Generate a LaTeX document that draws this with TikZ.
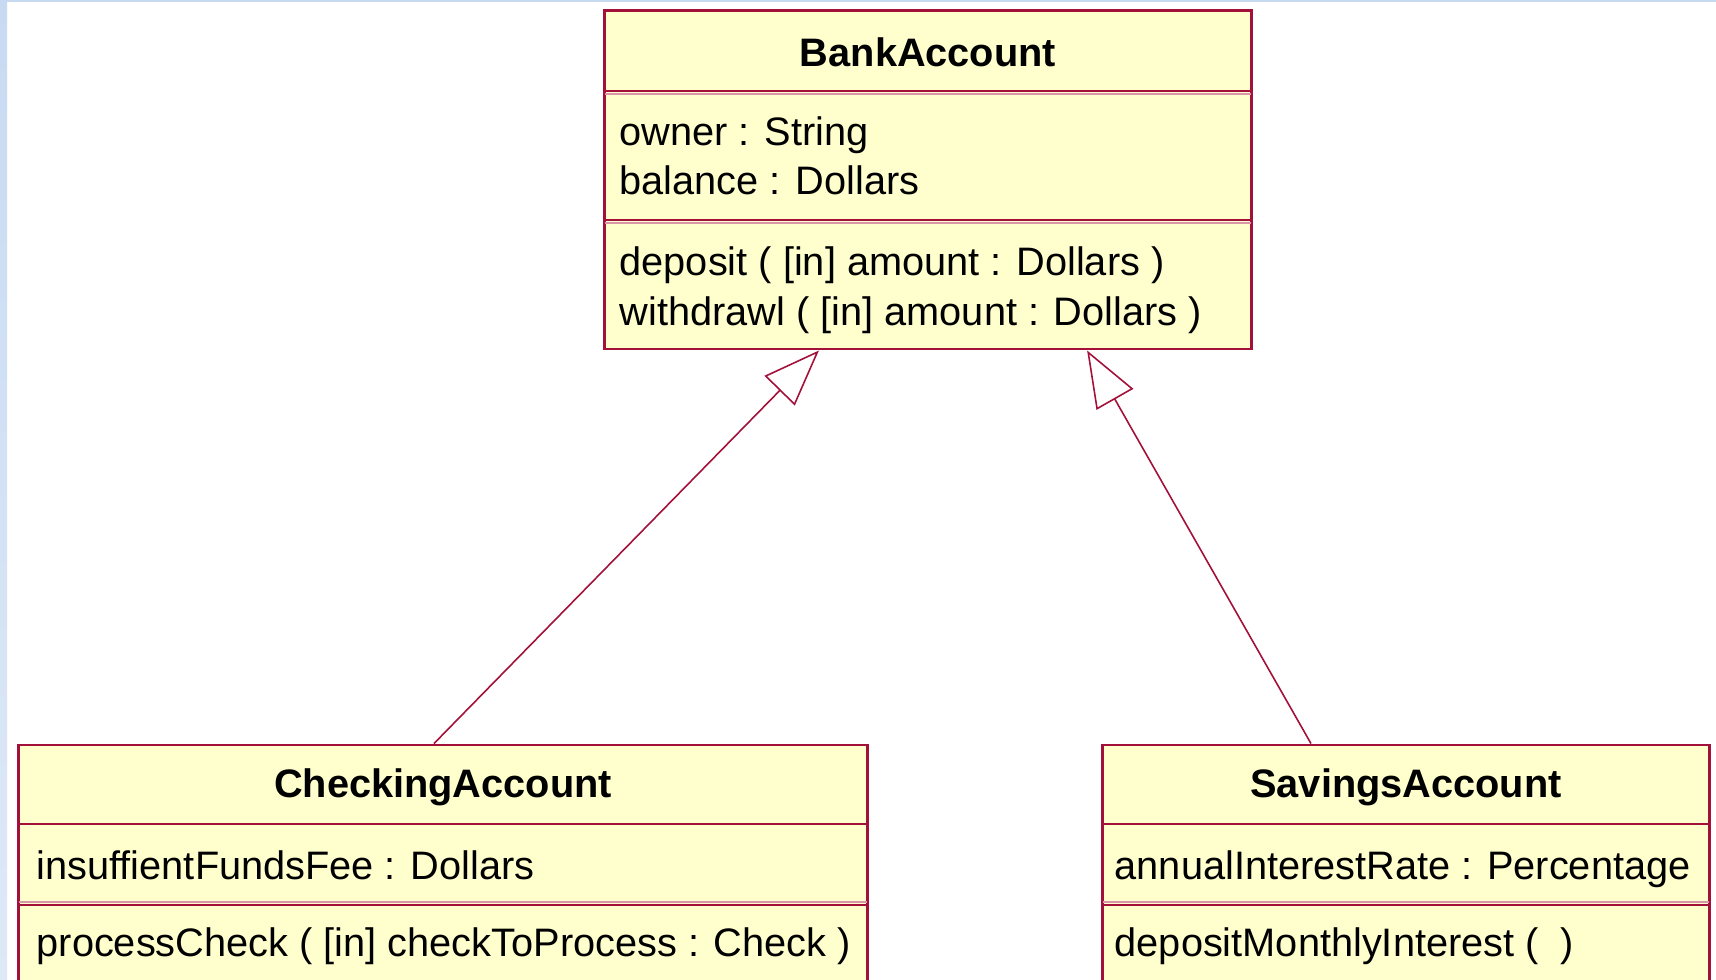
\documentclass[tikz,border=0pt]{standalone}
\usepackage{fontspec}
\setmainfont{Liberation Sans}
\usetikzlibrary{arrows.meta}
\definecolor{umlred}{RGB}{163,16,58}
\definecolor{umlpink}{RGB}{216,150,168}
\definecolor{umlfill}{RGB}{255,255,206}
\definecolor{winblue}{RGB}{200,218,242}

\begin{document}
\begin{tikzpicture}[x=0.01cm, y=-0.01cm,
	font=\fontsize{11.3}{14}\selectfont,
	classbox/.style={shape=rectangle, draw=umlred, fill=umlfill, line width=0.8pt, inner sep=0pt},
	classname/.style={font=\fontsize{11.3}{14}\selectfont\bfseries, inner sep=0pt},
	member/.style={anchor=west, inner sep=0pt, text height=0.75em, text depth=0.25em},
	sep/.style={draw=umlred, line width=0.55pt},
	sepshade/.style={draw=umlpink, line width=0.45pt},
	inherit/.style={draw=umlred, line width=0.45pt, -{Triangle[length=16pt, width=12pt, fill=white]}}]
	\clip (0,0) rectangle (1716,980);
	\fill[white] (0,0) rectangle (1716,980);
	\shade[top color=winblue, bottom color=winblue!60] (0,0) rectangle (7,980);
	\fill[winblue] (0,0) rectangle (1716,2);
	% classes
	\node[classbox, minimum width=6.46cm, minimum height=3.38cm] (bank)  at (928,180)  {};
	\node[classbox, minimum width=8.48cm, minimum height=2.60cm] (check) at (443,875)  {};
	\node[classbox, minimum width=6.06cm, minimum height=2.60cm] (save)  at (1406,875) {};
	% compartments
	\draw[sep] (605,91) -- (1251,91);
	\draw[sepshade] (605,94) -- (1251,94);
	\draw[sep] (605,220) -- (1251,220);
	\draw[sepshade] (605,223) -- (1251,223);
	\draw[sep] (19,824) -- (867,824);
	\draw[sep] (19,905) -- (867,905);
	\draw[sepshade] (19,902) -- (867,902);
	\draw[sep] (1103,824) -- (1709,824);
	\draw[sep] (1103,905) -- (1709,905);
	\draw[sepshade] (1103,902) -- (1709,902);
	% texts
	\node[classname] (bankname) at (928,52) {BankAccount};
	\node[member] (owner)    at (619,137) {owner : String};
	\node[member] (balance)  at (619,186) {balance : Dollars};
	\node[member] (deposit)  at (619,267) {deposit ( [in] amount : Dollars )};
	\node[member] (withdraw) at (619,317) {withdrawl ( [in] amount : Dollars )};
	\node[classname] (checkname) at (443,787) {CheckingAccount};
	\node[member] (fee)     at (36,871) {insuffientFundsFee : Dollars};
	\node[member] (process) at (36,948) {processCheck ( [in] checkToProcess : Check )};
	\node[classname] (savename) at (1406,787) {SavingsAccount};
	\node[member] (rate)    at (1114,871) {annualInterestRate : Percentage};
	\node[member] (monthly) at (1114,948) {depositMonthlyInterest (\ \ )};
	% generalisations
	\draw[inherit] ([xshift=-0.09cm]check.north) -- ([xshift=-1.09cm]bank.south);
	\draw[inherit] ([xshift=-0.95cm]save.north) -- ([xshift=1.59cm]bank.south);
\end{tikzpicture}
\end{document}
